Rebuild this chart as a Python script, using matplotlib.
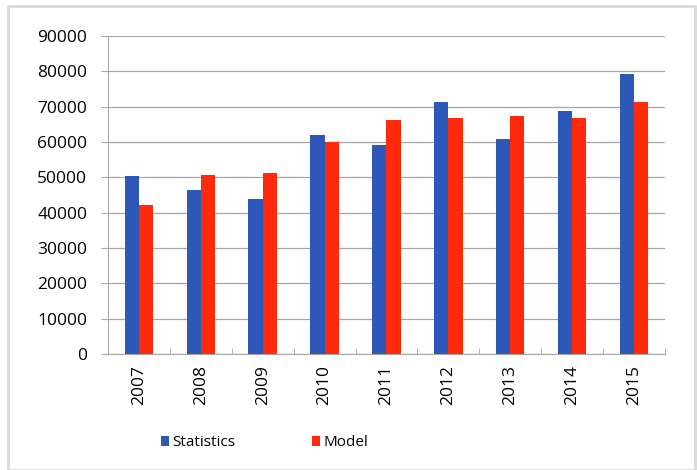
import numpy as np
import matplotlib.pyplot as plt
from matplotlib.patches import Rectangle

years = ['2007', '2008', '2009', '2010', '2011', '2012', '2013', '2014', '2015']
statistics = [50500, 46300, 43800, 62000, 59300, 71300, 60800, 68800, 79400]
model = [42100, 50600, 51300, 59900, 66200, 66900, 67500, 66900, 71300]

plt.rcParams['font.family'] = ['Open Sans', 'DejaVu Sans']

fig = plt.figure(figsize=(6.97, 4.7), dpi=100)
ax = fig.add_axes([0.155, 0.247, 0.799, 0.676])

# light frame around the whole chart
fig.patches.append(Rectangle((8 / 697, 0), 687 / 697, 1 - 6 / 470,
                             transform=fig.transFigure, fill=False,
                             edgecolor='#d9d9d9', linewidth=2))

x = np.arange(len(years))
w = 0.23
ax.bar(x - w / 2, statistics, w, color='#2d58b8', label='Statistics', zorder=3)
ax.bar(x + w / 2, model, w, color='#ff2a0c', label='Model', zorder=3)

ax.set_xlim(-0.5, len(years) - 0.5)
ax.set_ylim(0, 90000)
ax.set_yticks(np.arange(0, 90001, 10000))
ax.yaxis.grid(True, color='#a6a6a6', linewidth=0.9, zorder=0)

ax.set_xticks(x)
ax.set_xticklabels(years, rotation=90, fontsize=12.5)
ax.set_xticks(np.arange(-0.5, len(years), 1), minor=True)
ax.tick_params(axis='x', which='major', length=0, pad=8)
ax.tick_params(axis='x', which='minor', length=4, direction='in', color='#a6a6a6')
ax.tick_params(axis='y', labelsize=12.5, length=5, color='#a6a6a6', pad=10)

for s in ['top', 'right']:
    ax.spines[s].set_visible(False)
for s in ['left', 'bottom']:
    ax.spines[s].set_color('#a6a6a6')

fig.legend(loc='center', bbox_to_anchor=(0.38, 0.058), ncol=2, frameon=False,
           fontsize=11, handlelength=0.5, handleheight=0.6,
           handletextpad=0.25, columnspacing=5.0)

fig.savefig('out.png', dpi=100)
